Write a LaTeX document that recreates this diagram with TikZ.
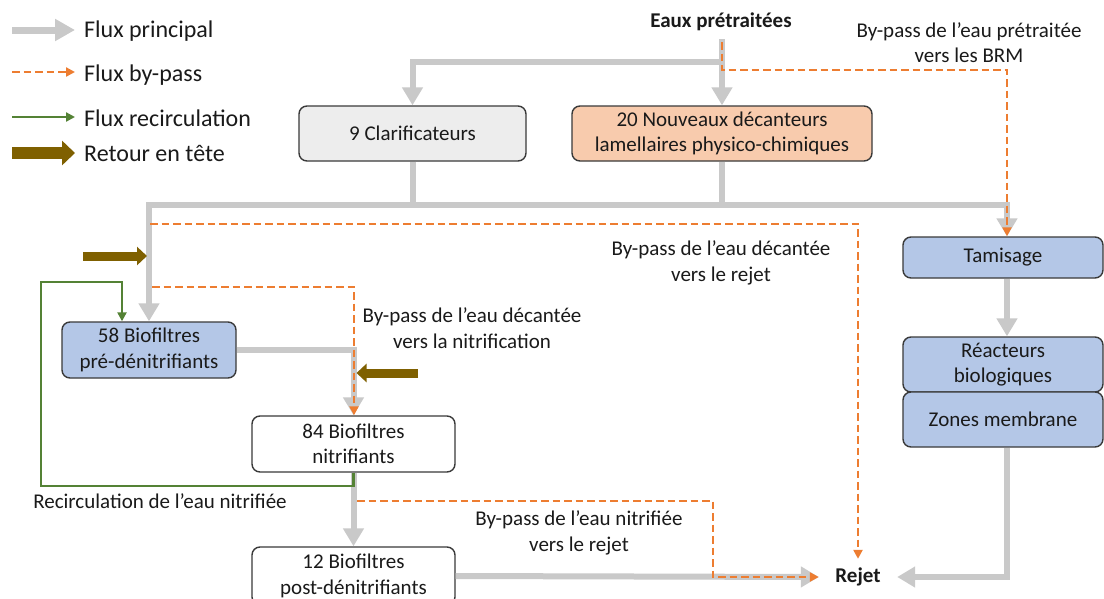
\documentclass[tikz,border=0pt]{standalone}
\usepackage{fontspec}
\setmainfont{Carlito}
\usetikzlibrary{arrows.meta}
\definecolor{flowgray}{HTML}{C9C9C9}
\definecolor{bporange}{HTML}{ED7D31}
\definecolor{recgreen}{HTML}{548235}
\definecolor{retbrown}{HTML}{7F6000}
\definecolor{boxline}{HTML}{3A3A3A}
\definecolor{fillgray}{HTML}{EDEDED}
\definecolor{fillorange}{HTML}{F8CBAD}
\definecolor{fillblue}{HTML}{B4C7E7}
\definecolor{txt}{HTML}{1A1A1A}
\tikzset{
  bodyfont/.style={font=\fontsize{21}{25.5}\selectfont, text=txt},
  legfont/.style={font=\fontsize{24}{28}\selectfont, text=txt},
  box/.style={draw=boxline, line width=1.4pt, rounded corners=8pt, align=center, bodyfont, inner sep=0pt},
  lbl/.style={align=center, bodyfont, inner sep=0pt},
  main/.style={draw=flowgray, line width=6pt},
  mainarrow/.style={main, -{Triangle[width=20pt,length=18pt]}},
  bypass/.style={draw=bporange, line width=2.4pt, dash pattern=on 7.5pt off 4pt, -{Triangle[width=9pt,length=9pt]}},
  recirc/.style={draw=recgreen, line width=2.4pt, -{Triangle[width=9pt,length=9pt]}},
  retour/.style={draw=retbrown, line width=9pt, -{Triangle[width=18pt,length=10pt]}},
}
\begin{document}
\begin{tikzpicture}[x=1pt,y=-1pt]
\useasboundingbox (0,0) rectangle (1104,598);
\clip (0,0) rectangle (1104,598);
\fill[white] (0,0) rectangle (1104,598);

% ---------- legend ----------
\coordinate (lg1a) at (12,30);  \coordinate (lg1b) at (75,30);
\coordinate (lg2a) at (12,72);  \coordinate (lg2b) at (75,72);
\coordinate (lg3a) at (12,117); \coordinate (lg3b) at (75,117);
\coordinate (lg4a) at (12,153); \coordinate (lg4b) at (75,153);
\draw[draw=flowgray, line width=7pt, -{Triangle[width=21pt,length=20pt]}] (lg1a) -- (lg1b);
\draw[bypass] (lg2a) -- (lg2b);
\draw[recirc] (lg3a) -- (lg3b);
\draw[draw=retbrown, line width=12.5pt, -{Triangle[width=24pt,length=13pt]}] (lg4a) -- (lg4b);
\node[legfont, anchor=west, inner sep=0pt] (lt1) at (84,31) {Flux principal};
\node[legfont, anchor=west, inner sep=0pt] (lt2) at (84,75) {Flux by-pass};
\node[legfont, anchor=west, inner sep=0pt] (lt3) at (84,118) {Flux recirculation};
\node[legfont, anchor=west, inner sep=0pt] (lt4) at (84,153) {Retour en tête};

% ---------- nodes ----------
\node[bodyfont, font=\fontsize{21}{25.5}\selectfont\bfseries, inner sep=0pt] (eaux) at (721,22) {Eaux prétraitées};
\node[box, fill=fillgray, minimum width=227pt, minimum height=55pt] (clar) at (412.5,133.5) {9 Clarificateurs};
\node[box, fill=fillorange, minimum width=300pt, minimum height=55pt] (deca) at (722,133.5) {20 Nouveaux décanteurs\\lamellaires physico-chimiques};
\node[box, fill=fillblue, minimum width=200pt, minimum height=41pt] (tam) at (1003,257.5) {Tamisage};
\node[box, fill=fillblue, minimum width=200pt, minimum height=55pt] (reac) at (1003,364.5) {Réacteurs\\biologiques};
\node[box, fill=fillblue, minimum width=200pt, minimum height=55pt] (zones) at (1003,419.5) {Zones membrane};
\node[box, fill=fillblue, minimum width=174pt, minimum height=56pt] (bf58) at (149,350) {58 Biofiltres\\pré-dénitrifiants};
\node[box, fill=white, minimum width=203pt, minimum height=56pt] (bf84) at (353.5,444) {84 Biofiltres\\nitrifiants};
\node[box, fill=white, minimum width=203pt, minimum height=58pt] (bf12) at (353.5,576) {12 Biofiltres\\post-dénitrifiants};
\node[bodyfont, font=\fontsize{21}{25.5}\selectfont\bfseries, inner sep=0pt, minimum width=78pt, minimum height=36pt] (rejet) at (858,577) {Rejet};

% labels
\node[lbl] (lbrm) at (969,42.5) {By-pass de l’eau prétraitée\\vers les BRM};
\node[lbl] (ldec) at (721,263) {By-pass de l’eau décantée\\vers le rejet};
\node[lbl] (lnit) at (472,328) {By-pass de l’eau décantée\\vers la nitrification};
\node[lbl] (lnr) at (579,533) {By-pass de l’eau nitrifiée\\vers le rejet};
\node[lbl] (lrec) at (160,501) {Recirculation de l’eau nitrifiée};

% ---------- coordinates ----------
\coordinate (src) at (722,42);
\coordinate (split) at (722,62);
\coordinate (colL) at (149,205);
\coordinate (colR) at (1007,205);
\coordinate (ret1) at (83,256);
\coordinate (ret2) at (418,373);
\coordinate (brm) at (1007,70);
\coordinate (bp2a) at (150,224);
\coordinate (bp2b) at (858,224);
\coordinate (bp3a) at (152,287);
\coordinate (bp3b) at (354,287);
\coordinate (bp4a) at (357,501);
\coordinate (bp4b) at (713,501);
\coordinate (recA) at (41,486);
\coordinate (recB) at (122,282);

% ---------- main flows ----------
\draw[main, line cap=rect] (src) -- (split);
\draw[main, {Triangle[width=20pt,length=18pt]}-{Triangle[width=20pt,length=18pt]}]
  (clar.north) -- (clar.north |- split) -- (split) -- (deca.north);
\draw[main] (clar.south) -- (clar.south |- colL);
\draw[main] (deca.south) -- (deca.south |- colL);
\draw[main, {Triangle[width=20pt,length=18pt]}-{Triangle[width=20pt,length=18pt]}]
  (colR |- tam.north) -- (colR) -- (colL) -- (colL |- bf58.north);
\draw[mainarrow] (tam.south -| colR) -- (reac.north -| colR);
\draw[mainarrow] (zones.south -| colR) |- (rejet.east);
\draw[mainarrow] (bf58.east) -| (bf84.north);
\draw[mainarrow] (bf84.south) -- (bf12.north);
\draw[mainarrow] (bf12.east) -- (rejet.west);

% ---------- retour en tête ----------
\draw[retour] (ret1) -- ([xshift=-2pt]ret1 -| colL);
\draw[retour] (ret2) -- ([xshift=3pt]ret2 -| bf84.north);

% ---------- recirculation ----------
\draw[recirc] (bf84.south) |- (recA) |- (recB) -- (recB |- bf58.north);

% ---------- by-pass ----------
\draw[bypass] (src) |- (brm) -- (brm |- tam.north);
\draw[bypass] (bp2a) -- (bp2b) -- (bp2b |- rejet.north);
\draw[bypass] (bp3a) -- (bp3b) -- (bp3b |- bf84.north);
\draw[bypass] (bp4a) -- (bp4b) |- (rejet.west);
\end{tikzpicture}
\end{document}
